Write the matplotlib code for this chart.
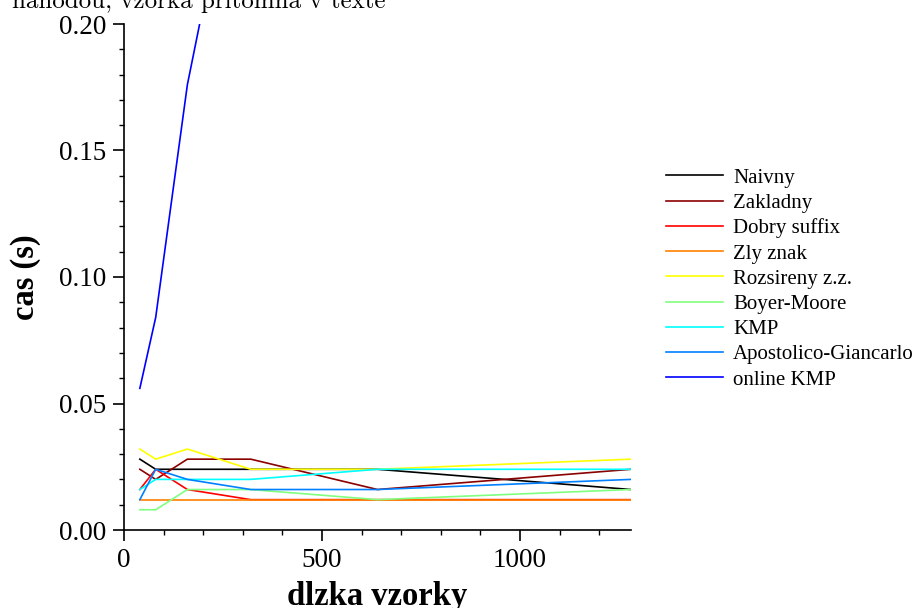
import matplotlib
matplotlib.use("Agg")
import matplotlib.pyplot as plt
from matplotlib.ticker import MultipleLocator, FormatStrFormatter

x = [40, 80, 160, 320, 640, 1280]
names = ["Naivny", "Zakladny", "Dobry suffix", "Zly znak", "Rozsireny z.z.",
         "Boyer-Moore", "KMP", "Apostolico-Giancarlo", "online KMP"]
naivny = [0.028, 0.024, 0.024, 0.024, 0.024, 0.016]
zakladny = [0.024, 0.020, 0.028, 0.028, 0.016, 0.024]
dobry_suffix = [0.016, 0.024, 0.016, 0.012, 0.012, 0.012]
zly_znak = [0.012, 0.012, 0.012, 0.012, 0.012, 0.012]
rozsireny = [0.032, 0.028, 0.032, 0.024, 0.024, 0.028]
boyer_moore = [0.008, 0.008, 0.016, 0.016, 0.012, 0.016]
kmp = [0.016, 0.020, 0.020, 0.020, 0.024, 0.024]
apostolico = [0.012, 0.024, 0.020, 0.016, 0.016, 0.020]
online_kmp = [0.056, 0.084, 0.176, 0.30, 0.56, 1.10]
series = [naivny, zakladny, dobry_suffix, zly_znak, rozsireny, boyer_moore,
          kmp, apostolico, online_kmp]
colors = ["#000000", "#8b0000", "#ff0000", "#ff8000", "#ffff00", "#80ff80",
          "#00ffff", "#0080ff", "#0000ff"]

plt.rcParams['font.family'] = ['Liberation Serif', 'DejaVu Serif']

W, H = 917, 608
fig = plt.figure(figsize=(W / 100, H / 100), dpi=100)
ax = fig.add_axes([124 / W, (H - 530) / H, (631 - 124) / W, (530 - 24) / H])

lines = []
for s, c, n in zip(series, colors, names):
    ln, = ax.plot(x, s, color=c, lw=1.2, label=n)
    lines.append(ln)

ax.set_xlim(0, 1280)
ax.set_ylim(0, 0.20)
ax.xaxis.set_major_locator(MultipleLocator(500))
ax.xaxis.set_minor_locator(MultipleLocator(100))
ax.yaxis.set_major_locator(MultipleLocator(0.05))
ax.yaxis.set_minor_locator(MultipleLocator(0.01))
ax.yaxis.set_major_formatter(FormatStrFormatter('%.2f'))
for sp in ['top', 'right']:
    ax.spines[sp].set_visible(False)
for sp in ['left', 'bottom']:
    ax.spines[sp].set_linewidth(1.2)
ax.tick_params(which='major', direction='out', length=8, width=1.2,
               labelsize=19.5)
ax.tick_params(axis='y', which='major', pad=5)
ax.tick_params(axis='x', which='major', pad=5)
ax.tick_params(which='minor', direction='out', length=3.5, width=1.0)

ax.set_xlabel("dlzka vzorky", fontsize=23.5, fontweight='bold', labelpad=6)
ax.set_ylabel("cas (s)", fontsize=23.5, fontweight='bold', labelpad=13)

fig.text(386 / W, 1 - 8 / H, "nahodou, vzorka pritomna v texte",
         fontsize=18, family=['cmr10', 'DejaVu Serif'], ha='right', va='baseline')

fig.legend(handles=lines, loc='upper left', bbox_to_anchor=(666 / W, 1 - 168 / H),
           frameon=False, fontsize=15, handlelength=2.75, handletextpad=0.48,
           labelspacing=0.27, borderpad=0, borderaxespad=0)

fig.savefig("out.png", dpi=100)
